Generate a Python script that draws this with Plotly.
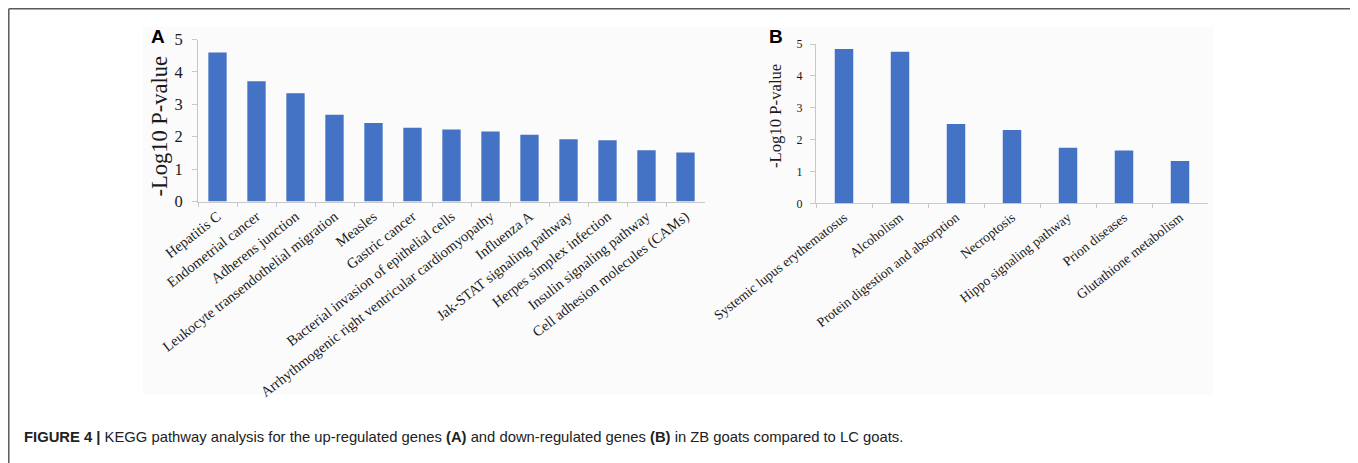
import plotly.graph_objects as go

# the page body has an 8px margin; the figure fills the rest of the 1358x463 window
OFF = 8
W, H = 1358 - OFF, 463 - OFF

# ---- data ----
cats_a = ["Hepatitis C", "Endometrial cancer", "Adherens junction",
          "Leukocyte transendothelial migration", "Measles", "Gastric cancer",
          "Bacterial invasion of epithelial cells",
          "Arrhythmogenic right ventricular cardiomyopathy", "Influenza A",
          "Jak-STAT signaling pathway", "Herpes simplex infection",
          "Insulin signaling pathway", "Cell adhesion molecules (CAMs)"]
vals_a = [4.60, 3.71, 3.34, 2.68, 2.42, 2.28, 2.22, 2.16, 2.06, 1.92, 1.89, 1.58, 1.51]

cats_b = ["Systemic lupus erythematosus", "Alcoholism",
          "Protein digestion and absorption", "Necroptosis",
          "Hippo signaling pathway", "Prion diseases", "Glutathione metabolism"]
vals_b = [4.84, 4.76, 2.49, 2.30, 1.74, 1.66, 1.33]

y_ticks = [0, 1, 2, 3, 4, 5]
y_title = "-Log10 P-value"
caption = ("<b>FIGURE 4 |</b> KEGG pathway analysis for the up-regulated genes <b>(A)</b> "
           "and down-regulated genes <b>(B)</b> in ZB goats compared to LC goats.")

BAR = "#4472C4"
AX = "#c8c8c8"
TXT = "#1a1a1a"
SERIF = "Liberation Serif"
SANS = "Liberation Sans"


def px(x):
    return (x - OFF) / W


def py(y):
    return 1 - (y - OFF) / H


fig = go.Figure()
fig.add_trace(go.Bar(x=cats_a, y=vals_a, marker_color=BAR, marker_line_width=0,
                     xaxis="x", yaxis="y", width=0.47))
fig.add_trace(go.Bar(x=cats_b, y=vals_b, marker_color=BAR, marker_line_width=0,
                     xaxis="x2", yaxis="y2", width=0.33))

common_x = dict(type="category", showline=True, linecolor=AX, linewidth=1,
                ticks="outside", tickson="boundaries", ticklen=4, tickcolor=AX,
                tickangle=-38, showgrid=False, zeroline=False, automargin=False)
common_y = dict(range=[0, 5], tickvals=y_ticks, showline=True, linecolor=AX,
                linewidth=1, ticks="outside", ticklen=5, tickcolor=AX,
                showgrid=False, zeroline=False, automargin=False)

xa = dict(common_x); xa.update(domain=[px(198), px(705)], anchor="y",
                               tickfont=dict(family=SERIF, size=14.5, color=TXT))
ya = dict(common_y); ya.update(domain=[py(201.5), py(39.5)], anchor="x",
                               ticklabelstandoff=6,
                               tickfont=dict(family=SERIF, size=16.5, color=TXT))
xb = dict(common_x); xb.update(domain=[px(816), px(1208)], anchor="y2",
                               tickfont=dict(family=SERIF, size=13.6, color=TXT))
yb = dict(common_y); yb.update(domain=[py(203.3), py(44)], anchor="x2",
                               ticklabelstandoff=5,
                               tickfont=dict(family=SERIF, size=12, color=TXT))

ann = dict(xref="paper", yref="paper", showarrow=False, xanchor="center", yanchor="middle")

fig.update_layout(
    template="none",
    width=W, height=H, margin=dict(l=0, r=0, t=0, b=0, autoexpand=False),
    paper_bgcolor="white", plot_bgcolor="rgba(0,0,0,0)",
    showlegend=False,
    xaxis=xa, yaxis=ya, xaxis2=xb, yaxis2=yb,
    shapes=[
        dict(type="rect", xref="paper", yref="paper", x0=px(143), x1=px(1213),
             y0=py(395), y1=py(27), fillcolor="#fbfbfb", line_width=0, layer="below"),
        dict(type="line", xref="paper", yref="paper", x0=px(8.8), x1=px(8.8),
             y0=0, y1=py(8.8), line=dict(color="#5a5a5a", width=1.5)),
        dict(type="line", xref="paper", yref="paper", x0=px(8.8), x1=px(1355.5),
             y0=py(8.8), y1=py(8.8), line=dict(color="#5a5a5a", width=1.5)),
        dict(type="line", xref="paper", yref="paper", x0=px(1355.5), x1=px(1355.5),
             y0=0, y1=py(8.8), line=dict(color="#5a5a5a", width=1.5)),
    ],
    annotations=[
        dict(ann, text="<b>A</b>", x=px(157.5), y=py(36),
             font=dict(family=SANS, size=19, color="black")),
        dict(ann, text="<b>B</b>", x=px(776), y=py(36),
             font=dict(family=SANS, size=19, color="black")),
        dict(ann, text=y_title, x=px(159.5), y=py(126), textangle=-90,
             font=dict(family=SERIF, size=22.5, color=TXT)),
        dict(ann, text=y_title, x=px(775), y=py(116), textangle=-90,
             font=dict(family=SERIF, size=16.7, color=TXT)),
        dict(ann, text=caption, x=px(22), y=py(437), xanchor="left",
             font=dict(family=SANS, size=14.8, color="#222")),
    ],
)

fig.write_html("out.html")
